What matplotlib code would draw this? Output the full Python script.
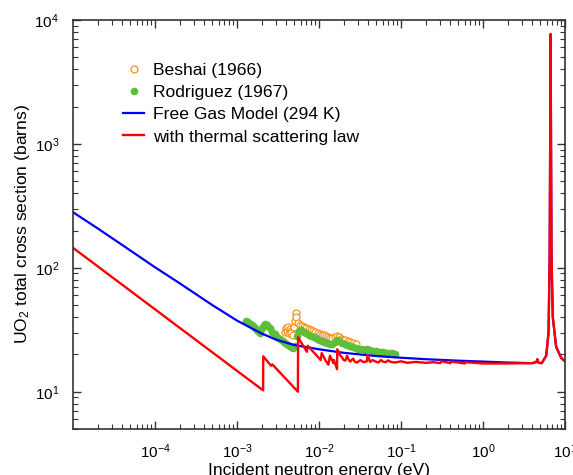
import numpy as np
import matplotlib
matplotlib.use('Agg')
import matplotlib.pyplot as plt
from matplotlib.ticker import LogLocator, NullFormatter

plt.rcParams['font.family'] = ['Liberation Sans', 'DejaVu Sans']
plt.rcParams['mathtext.fontset'] = 'custom'
plt.rcParams['mathtext.rm'] = 'Liberation Sans'
plt.rcParams['mathtext.it'] = 'Liberation Sans:italic'

# Beshai (1966) measurements
e_beshai = [3.9e-3, 4.0e-3, 4.1e-3, 4.2e-3, 4.3e-3, 4.4e-3, 4.5e-3, 4.6e-3, 4.8e-3,
            5.0e-3, 5.1e-3, 5.2e-3, 5.3e-3, 5.5e-3, 5.8e-3, 6.2e-3, 6.6e-3, 7.0e-3,
            7.5e-3, 8.0e-3, 8.5e-3, 9.0e-3, 9.6e-3, 1.02e-2, 1.08e-2, 1.15e-2, 1.22e-2,
            1.30e-2, 1.38e-2, 1.46e-2, 1.55e-2, 1.65e-2, 1.75e-2, 1.85e-2, 1.95e-2,
            2.1e-2, 2.25e-2, 2.4e-2, 2.6e-2, 2.8e-2]
s_beshai = [30.5, 32.5, 31.0, 33.0, 30.0, 32.0, 31.0, 29.5, 28.5,
            33.0, 37.5, 43.0, 40.0, 36.0, 34.5, 34.0, 33.5, 32.5,
            32.0, 31.5, 31.0, 30.5, 30.0, 29.0, 28.8, 28.5, 28.0,
            27.5, 27.0, 27.0, 27.8, 28.0, 27.5, 26.8, 26.3,
            26.0, 25.5, 25.3, 24.8, 24.3]

# Rodriguez (1967) measurements
e_rodr = [1.30e-3, 1.38e-3, 1.45e-3, 1.52e-3, 1.60e-3, 1.68e-3, 1.75e-3, 1.82e-3, 1.90e-3,
          1.97e-3, 2.05e-3, 2.12e-3, 2.20e-3, 2.35e-3, 2.50e-3, 2.70e-3, 2.90e-3, 3.10e-3,
          3.30e-3, 3.60e-3, 3.90e-3, 4.20e-3, 4.50e-3, 4.80e-3, 5.10e-3, 5.40e-3, 5.70e-3,
          6.00e-3, 6.50e-3, 7.00e-3, 7.50e-3, 8.00e-3, 8.60e-3, 9.20e-3, 1.00e-2, 1.08e-2,
          1.16e-2, 1.25e-2, 1.35e-2, 1.45e-2, 1.55e-2, 1.65e-2, 1.75e-2, 1.90e-2, 2.05e-2,
          2.20e-2, 2.40e-2, 2.60e-2, 2.80e-2, 3.00e-2, 3.30e-2, 3.60e-2, 3.90e-2, 4.20e-2,
          4.60e-2, 5.00e-2, 5.50e-2, 6.00e-2, 6.60e-2, 7.20e-2, 7.80e-2, 8.50e-2]
s_rodr = [37.0, 36.2, 35.5, 34.5, 33.5, 32.5, 31.5, 30.7, 30.0,
          31.8, 33.5, 34.8, 35.5, 34.5, 32.5, 30.5, 29.0, 27.8,
          26.8, 25.6, 24.6, 23.7, 23.0, 22.6, 23.5, 28.0, 31.0,
          31.5, 30.5, 29.5, 28.8, 28.2, 27.6, 27.0, 26.2, 25.5,
          25.0, 24.6, 24.3, 24.1, 25.3, 26.3, 25.8, 24.9, 24.2,
          23.6, 23.2, 22.9, 22.6, 22.3, 22.1, 21.9, 22.2, 21.9,
          21.5, 21.2, 21.0, 20.8, 20.7, 20.6, 20.4, 20.2]

# Free gas model (294 K)
e_fg = [1e-5, 2e-5, 5e-5, 1e-4, 2e-4, 5e-4, 1e-3, 2e-3, 3e-3, 5e-3, 1e-2, 2e-2,
        5e-2, 0.1, 0.2, 0.5, 1.0, 2.0, 4.0, 4.5, 4.6, 4.75, 5.2, 5.9, 6.3, 6.5,
        6.6, 6.67, 6.75, 6.85, 7.1, 7.8, 9.0, 10.0]
s_fg = [281, 208, 138, 101, 75, 50, 37.5, 29.5, 26.3, 23.8, 22.0, 20.6,
        19.4, 18.8, 18.3, 17.8, 17.5, 17.2, 17.0, 17.4, 18.3, 17.1, 17.0, 19.5, 30, 120,
        1200, 7700, 1200, 120, 40, 23, 18.7, 17.6]

# with thermal scattering law
e_tsl = [1e-5, 2.08e-3, 2.09e-3, 2.6e-3, 2.7e-3, 5.53e-3, 5.56e-3, 7.1e-3, 7.3e-3,
         1.05e-2, 1.08e-2, 1.2e-2, 1.3e-2, 1.36e-2, 1.5e-2, 1.52e-2, 1.66e-2, 1.67e-2,
         1.8e-2, 1.9e-2, 2.0e-2, 2.1e-2, 2.2e-2, 2.3e-2, 2.4e-2, 2.6e-2, 2.75e-2,
         2.9e-2, 3.2e-2, 3.5e-2, 3.85e-2, 3.9e-2, 4.2e-2, 4.5e-2, 4.8e-2, 5.3e-2,
         5.7e-2, 6.0e-2, 6.5e-2, 7.0e-2, 7.5e-2, 8.5e-2, 0.1, 0.12, 0.15, 0.2,
         0.25, 0.3, 0.31, 0.4, 0.41, 0.6, 0.61, 1.0, 2.0, 4.0, 4.5, 4.6, 4.75,
         5.2, 5.9, 6.3, 6.5, 6.6, 6.67, 6.75, 6.85, 7.1, 7.8, 9.0, 10.0]
s_tsl = [145, 10.25, 19.3, 16.2, 16.6, 10.0, 27.5, 21.0, 23.5,
         18.0, 20.5, 17.9, 16.5, 19.5, 17.0, 18.0, 15.2, 22.0,
         19.8, 19.0, 18.0, 17.8, 19.5, 18.2, 17.5, 18.5, 17.4,
         17.2, 18.0, 17.3, 17.6, 19.8, 17.4, 18.0, 17.6, 17.2,
         18.0, 17.5, 17.3, 17.9, 17.4, 17.2, 17.6, 17.1, 17.4, 17.1,
         17.3, 17.0, 17.6, 17.0, 17.5, 16.9, 17.3, 16.9, 16.9, 17.0, 17.4, 18.3, 17.1,
         17.0, 19.5, 30, 120, 1200, 7700, 1200, 120, 40, 23, 18.7, 17.6]

x_major = [1e-4, 1e-3, 1e-2, 1e-1, 1e0, 1e1]

fig = plt.figure(figsize=(5.73, 4.75), dpi=100)
ax = fig.add_axes([73 / 573, 1 - 429 / 475, 492 / 573, 409 / 475])

ax.plot(e_beshai, s_beshai, linestyle='none', marker='o', markersize=5,
        markerfacecolor='white', markeredgecolor='#f7941d', markeredgewidth=0.9,
        label='Beshai (1966)')
ax.plot(e_rodr, s_rodr, linestyle='none', marker='o', markersize=5.5,
        color='#5cbf3a', markeredgewidth=0, label='Rodriguez (1967)')
ax.plot(e_fg, s_fg, color='#0000ff', lw=1.6, label='Free Gas Model (294 K)')
ax.plot(e_tsl, s_tsl, color='#ff0000', lw=1.7, label='with thermal scattering law')

ax.set_xscale('log')
ax.set_yscale('log')
ax.set_xlim(1e-5, 10)
ax.set_ylim(5, 1e4)

ax.set_xticks(x_major)
ax.xaxis.set_minor_locator(LogLocator(base=10, subs=np.arange(2, 10), numticks=20))
ax.xaxis.set_minor_formatter(NullFormatter())
ax.yaxis.set_minor_locator(LogLocator(base=10, subs=np.arange(2, 10), numticks=20))
ax.yaxis.set_minor_formatter(NullFormatter())

ax.tick_params(which='both', direction='in', top=True, right=True, labelsize=11,
               color='#333333')
ax.tick_params(which='major', length=6, width=1, pad=10)
ax.tick_params(which='minor', length=3.5, width=0.8)
for sp in ax.spines.values():
    sp.set_linewidth(1.2)
    sp.set_color('#333333')

ax.set_xlabel('Incident neutron energy (eV)', fontsize=12.6, labelpad=1)
ax.set_ylabel(r'UO$_2$ total cross section (barns)', fontsize=12.6, labelpad=2)

ax.legend(loc='upper left', bbox_to_anchor=(0.088, 0.913), frameon=False,
          fontsize=12.6, handlelength=1.2, handletextpad=0.5, labelspacing=0.4,
          borderaxespad=0)

fig.savefig('out.png', dpi=100)
